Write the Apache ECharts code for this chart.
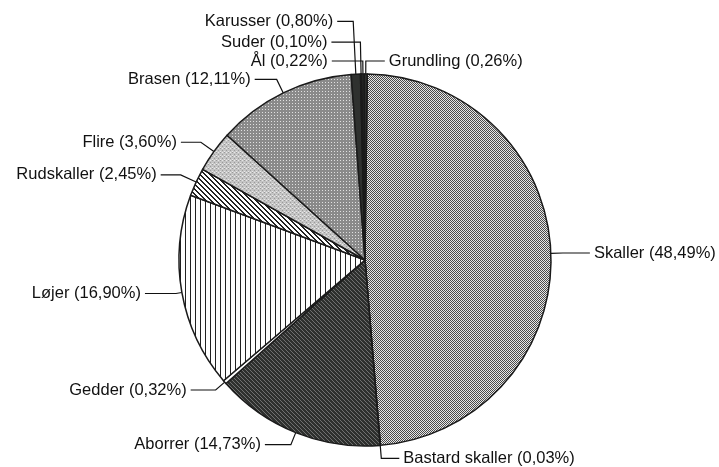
<!DOCTYPE html>
<html>
<head>
<meta charset="utf-8">
<script src="https://cdn.jsdelivr.net/npm/echarts@6/dist/echarts.min.js"></script>
<style>
  html, body { margin: 0; padding: 0; background: #fff; }
  #chart { width: 719px; height: 467px; }
</style>
</head>
<body>
<div id="chart"></div>
<script>
const names = ['Skaller', 'Bastard skaller', 'Aborrer', 'Gedder', 'Løjer', 'Rudskaller',
  'Flire', 'Brasen', 'Karusser', 'Suder', 'Ål', 'Grundling']
const shares = [48.49, 0.03, 14.73, 0.32, 16.90, 2.45, 3.60, 12.11, 0.80, 0.10, 0.22, 0.26]

// small canvas tiles used as fill patterns
const tile = (w, h, draw) => {
  const c = document.createElement('canvas')
  c.width = w
  c.height = h
  draw(c.getContext('2d'), w, h)
  return { image: c, repeat: 'repeat' }
}

const checker = tile(2, 2, (g) => {
  g.fillStyle = '#e6e6e6'; g.fillRect(0, 0, 2, 2)
  g.fillStyle = '#4a4a4a'; g.fillRect(0, 0, 1, 1); g.fillRect(1, 1, 1, 1)
})
const darkDiag = tile(4, 4, (g) => {
  g.fillStyle = '#2e302e'; g.fillRect(0, 0, 4, 4)
  g.fillStyle = '#707070'
  for (let i = 0; i < 4; i++) g.fillRect(i, i, 1, 1)
})
const vertical = tile(5, 5, (g) => {
  g.fillStyle = '#ffffff'; g.fillRect(0, 0, 5, 5)
  g.fillStyle = '#222'; g.fillRect(0, 0, 1, 5)
})
const hatch = tile(5, 5, (g) => {
  g.fillStyle = '#ffffff'; g.fillRect(0, 0, 5, 5)
  g.fillStyle = '#222'
  for (let i = 0; i < 5; i++) { g.fillRect(i, i, 1, 1); g.fillRect((i + 1) % 5, i, 1, 1) }
})
const speckle = tile(4, 4, (g) => {
  g.fillStyle = '#c4c4c4'; g.fillRect(0, 0, 4, 4)
  g.fillStyle = '#9a9a9a'; g.fillRect(0, 0, 1, 1); g.fillRect(2, 2, 1, 1)
  g.fillStyle = '#e8e8e8'; g.fillRect(2, 0, 1, 1); g.fillRect(0, 3, 1, 1)
})
const dots = tile(3, 3, (g) => {
  g.fillStyle = '#8a8a8a'; g.fillRect(0, 0, 3, 3)
  g.fillStyle = '#e0e0e0'; g.fillRect(1, 1, 1, 1)
})

const fills = [checker, '#ffffff', darkDiag, '#ffffff', vertical, hatch,
  speckle, dots, '#2f312f', '#2f312f', '#2f312f', '#2f312f']

// leader line lengths per slice [radial, horizontal]
const leaders = {
  'Skaller': [12, 27], 'Bastard skaller': [13, 18], 'Aborrer': [13, 26], 'Gedder': [12, 25],
  'Løjer': [6, 31], 'Rudskaller': [17, 20], 'Flire': [16, 20], 'Brasen': [15, 22],
  'Karusser': [53, 16], 'Suder': [32, 29], 'Ål': [13, 31], 'Grundling': [13, 19]
}

const pct = v => v.toFixed(2).replace('.', ',') + '%'

const chart = echarts.init(document.getElementById('chart'))

chart.setOption({
  animation: false,
  series: [{
    type: 'pie',
    center: [365, 260],
    radius: 186,
    startAngle: 89.3,
    clockwise: true,
    avoidLabelOverlap: false,
    itemStyle: { borderColor: '#1a1a1a', borderWidth: 1.5 },
    label: {
      color: '#111',
      fontFamily: 'Liberation Sans, Arial, sans-serif',
      fontSize: 16.5,
      bleedMargin: 0,
      overflow: 'none',
      distanceToLabelLine: 4,
      formatter: p => p.name + ' (' + pct(p.value) + ')'
    },
    labelLine: {
      lineStyle: { color: '#111', width: 1.2 }
    },
    emphasis: { disabled: true },
    data: names.map((n, i) => ({
      name: n,
      value: shares[i],
      itemStyle: { color: fills[i] },
      labelLine: { length: leaders[n][0], length2: leaders[n][1] }
    }))
  }]
})
</script>
</body>
</html>
